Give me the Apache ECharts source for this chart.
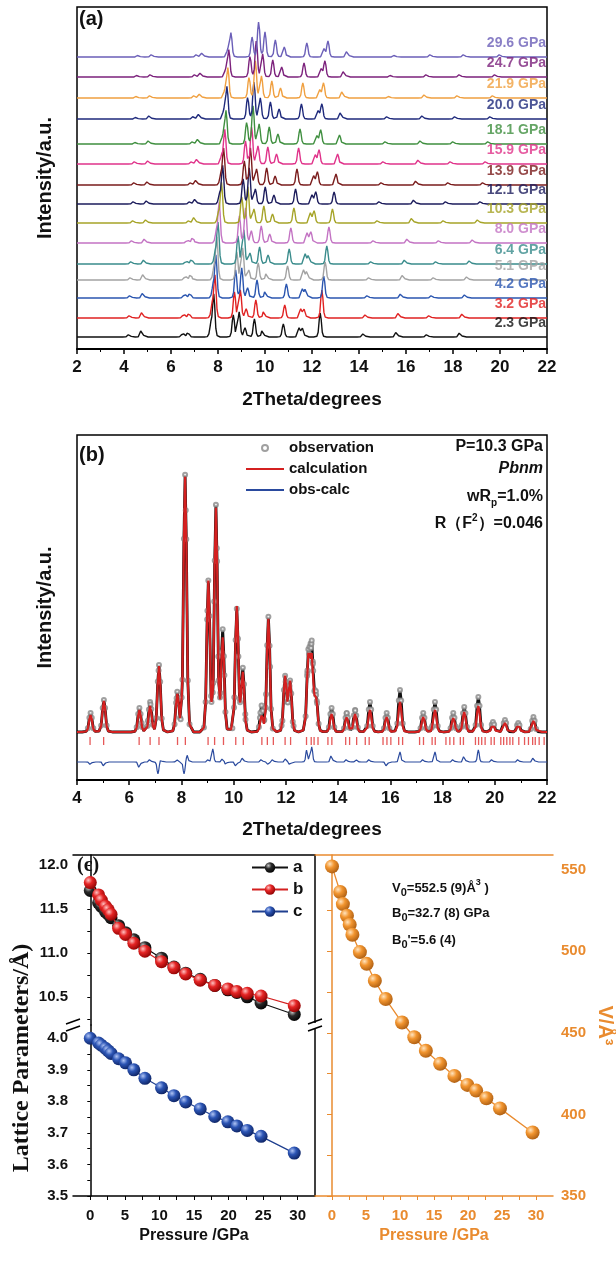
<!DOCTYPE html>
<html>
<head>
<meta charset="utf-8">
<script src="https://cdn.jsdelivr.net/npm/echarts@6.0.0/dist/echarts.min.js"></script>
<style>
html, body { margin: 0; padding: 0; background: #fff; }
#chart { width: 616px; height: 1265px; }
</style>
</head>
<body>
<div id="chart"></div>
<script>
// ---- (a) stacked patterns, bottom to top ----
const labelsA = ['2.3 GPa', '3.2 GPa', '4.2 GPa', '5.1 GPa', '6.4 GPa', '8.0 GPa', '10.3 GPa', '12.1 GPa',
    '13.9 GPa', '15.9 GPa', '18.1 GPa', '20.0 GPa', '21.9 GPa', '24.7 GPa', '29.6 GPa'];
const offsetsA = [12, 31, 51, 69, 85, 106, 126, 145, 164, 185, 205, 230, 251, 272, 292];
const peakPosA = [
    [4.22, 4.75, 6.50, 6.72, 7.70, 7.82, 8.65, 8.90, 9.15, 9.55, 9.90, 10.78, 11.45, 11.60, 12.35, 14.20, 15.60, 16.90, 18.30],
    [4.25, 4.78, 6.54, 6.76, 7.75, 7.87, 8.70, 8.95, 9.20, 9.61, 9.96, 10.84, 11.52, 11.67, 12.42, 14.29, 15.69, 17.00, 18.41],
    [4.27, 4.81, 6.58, 6.80, 7.79, 7.91, 8.75, 9.01, 9.26, 9.66, 10.02, 10.91, 11.59, 11.74, 12.50, 14.37, 15.79, 17.10, 18.52],
    [4.29, 4.83, 6.61, 6.83, 7.83, 7.95, 8.80, 9.05, 9.31, 9.71, 10.07, 10.96, 11.64, 11.80, 12.56, 14.44, 15.87, 17.19, 18.61],
    [4.32, 4.86, 6.65, 6.87, 7.88, 8.00, 8.85, 9.10, 9.36, 9.77, 10.13, 11.03, 11.71, 11.87, 12.63, 14.53, 15.96, 17.29, 18.72],
    [4.35, 4.89, 6.70, 6.92, 7.93, 8.05, 8.91, 9.17, 9.42, 9.84, 10.20, 11.10, 11.79, 11.95, 12.72, 14.63, 16.07, 17.41, 18.85],
    [4.40, 4.95, 6.77, 7.00, 8.02, 8.15, 9.01, 9.27, 9.53, 9.95, 10.32, 11.23, 11.93, 12.09, 12.87, 14.80, 16.26, 17.61, 19.07],
    [4.42, 4.98, 6.81, 7.04, 8.07, 8.20, 9.07, 9.33, 9.59, 10.01, 10.38, 11.30, 12.00, 12.16, 12.94, 14.88, 16.35, 17.71, 19.18],
    [4.45, 5.01, 6.85, 7.08, 8.12, 8.24, 9.12, 9.38, 9.64, 10.07, 10.43, 11.36, 12.07, 12.23, 13.02, 14.97, 16.44, 17.81, 19.29],
    [4.47, 5.04, 6.89, 7.12, 8.16, 8.29, 9.17, 9.43, 9.70, 10.12, 10.49, 11.43, 12.14, 12.30, 13.09, 15.05, 16.54, 17.91, 19.40],
    [4.50, 5.06, 6.93, 7.16, 8.21, 8.34, 9.22, 9.49, 9.75, 10.18, 10.55, 11.49, 12.21, 12.37, 13.17, 15.14, 16.63, 18.02, 19.51],
    [4.52, 5.09, 6.96, 7.20, 8.25, 8.38, 9.26, 9.53, 9.80, 10.23, 10.60, 11.55, 12.26, 12.42, 13.23, 15.21, 16.71, 18.10, 19.60],
    [4.54, 5.12, 7.00, 7.24, 8.29, 8.42, 9.32, 9.59, 9.85, 10.29, 10.66, 11.61, 12.33, 12.49, 13.30, 15.29, 16.80, 18.20, 19.71],
    [4.57, 5.14, 7.03, 7.27, 8.33, 8.46, 9.36, 9.63, 9.90, 10.33, 10.71, 11.66, 12.39, 12.55, 13.36, 15.36, 16.88, 18.29, 19.80],
    [4.61, 5.19, 7.10, 7.34, 8.42, 8.55, 9.45, 9.73, 10.00, 10.44, 10.82, 11.78, 12.51, 12.68, 13.50, 15.52, 17.05, 18.47, 20.00]
];
const peakHgtA = [
    [3, 8, 4, 5, 12, 42, 22, 25, 9, 18, 8, 13, 9, 9, 24, 4, 6, 3, 5],
    [3, 7, 4, 5, 12, 42, 26, 28, 9, 18, 8, 13, 9, 9, 28, 4, 6, 3, 5],
    [3, 6, 4, 5, 11, 42, 28, 30, 10, 18, 8, 14, 9, 10, 22, 3, 5, 3, 4],
    [3, 7, 4, 6, 11, 42, 28, 32, 10, 17, 8, 14, 10, 10, 18, 3, 6, 3, 4],
    [3, 5, 3, 5, 10, 41, 28, 34, 11, 17, 9, 15, 10, 10, 18, 3, 5, 3, 4],
    [3, 5, 3, 6, 10, 40, 27, 35, 12, 17, 9, 15, 10, 11, 16, 3, 5, 3, 4],
    [3, 4, 3, 7, 9, 40, 26, 36, 14, 17, 9, 15, 10, 12, 14, 3, 6, 3, 4],
    [3, 4, 3, 6, 9, 38, 25, 36, 15, 17, 9, 15, 9, 12, 12, 3, 5, 3, 3],
    [3, 4, 3, 6, 9, 36, 24, 37, 16, 17, 9, 16, 9, 13, 11, 3, 5, 3, 3],
    [3, 4, 3, 6, 8, 34, 23, 38, 18, 17, 10, 16, 9, 14, 10, 3, 5, 3, 3],
    [2, 4, 3, 6, 8, 33, 22, 38, 20, 17, 10, 15, 8, 14, 9, 3, 4, 3, 3],
    [2, 4, 3, 6, 8, 32, 22, 38, 21, 17, 10, 15, 8, 15, 8, 3, 4, 3, 3],
    [2, 3, 3, 5, 7, 30, 21, 37, 22, 17, 10, 15, 8, 15, 8, 2, 4, 3, 3],
    [2, 3, 3, 5, 7, 27, 21, 37, 23, 17, 10, 14, 8, 16, 7, 2, 3, 3, 3],
    [2, 3, 3, 5, 7, 24, 20, 36, 25, 17, 10, 14, 8, 16, 7, 2, 3, 3, 3]
];
const colorsA = ['#111111', '#e02222', '#2b56b0', '#a3a3a3', '#3a8c8c', '#c373c3', '#a6a428', '#1c1c5c',
    '#7a1c1c', '#e0338a', '#3f8f3f', '#1f2a7c', '#f0a040', '#7c227c', '#6b5fb8'];

// ---- (b) refinement at 10.3 GPa ----
const obsPos = [4.52, 5.03, 6.39, 6.80, 7.14, 7.84, 8.14, 9.03, 9.32, 9.58, 10.12, 10.35, 11.07, 11.33, 11.97, 12.16,
    12.86, 12.99, 13.15, 13.75, 14.33, 14.65, 15.22, 15.86, 16.37, 17.26, 17.71, 18.41, 18.83, 19.37, 19.93, 20.39, 20.90, 21.48];
const obsHgt = [19, 32, 24, 30, 67, 39, 257, 150, 225, 100, 122, 62, 25, 115, 55, 50,
    72, 80, 36, 24, 19, 22, 30, 19, 42, 19, 30, 19, 25, 35, 10, 12, 9, 15];
const calcHgt = [17, 31, 22, 26, 66, 37, 255, 150, 222, 92, 125, 58, 15, 113, 55, 50,
    70, 68, 34, 18, 15, 18, 22, 15, 30, 15, 22, 14, 20, 26, 7, 9, 7, 11];
const diffPos = [4.52, 5.03, 6.39, 6.80, 7.10, 7.22, 7.84, 8.10, 8.22, 9.03, 9.20, 9.58, 9.70, 10.09, 10.35, 11.07, 11.33, 11.50,
    12.00, 12.15, 12.80, 12.99, 13.75, 14.33, 14.70, 15.20, 15.86, 16.37, 17.26, 17.71, 18.41, 18.83, 19.37, 19.90, 20.90, 21.48];
const diffHgt = [-3, -5, -7, 3, -12, 3, 2, -12, 7, 3, 13, 4, -3, -5, 5, 3, -3, 3,
    4, -3, 13, 15, 8, 3, 2, 3, -5, 10, 3, 10, 3, 7, 12, 3, 3, 5];
const reflPos = [4.50, 5.02, 6.38, 6.80, 7.14, 7.85, 8.15, 9.02, 9.27, 9.61, 10.08, 10.37, 11.08, 11.29, 11.52, 11.97, 12.18,
    12.79, 12.97, 13.08, 13.23, 13.61, 13.76, 14.29, 14.44, 14.71, 15.04, 15.19, 15.72, 15.87, 16.02, 16.32, 16.47, 17.12,
    17.27, 17.60, 17.72, 18.13, 18.28, 18.43, 18.68, 18.80, 19.26, 19.38, 19.50, 19.63, 19.86, 19.98, 20.23, 20.34, 20.46,
    20.58, 20.69, 20.92, 21.14, 21.29, 21.45, 21.55, 21.70, 21.89];
const obsBase = 48, diffBase = 18, reflLevel = 39;

// ---- (c) lattice parameters and volume ----
const pressC = [0, 1.2, 1.6, 2.2, 2.6, 3.0, 4.1, 5.1, 6.3, 7.9, 10.3, 12.1, 13.8, 15.9, 18.0, 19.9, 21.2, 22.7, 24.7, 29.5];
const latA = [11.71, 11.57, 11.53, 11.47, 11.44, 11.40, 11.31, 11.23, 11.15, 11.06, 10.94, 10.84, 10.77, 10.70, 10.63, 10.58, 10.55, 10.50, 10.43, 10.30];
const latB = [11.80, 11.66, 11.60, 11.53, 11.49, 11.44, 11.28, 11.21, 11.11, 11.02, 10.90, 10.83, 10.76, 10.69, 10.63, 10.59, 10.56, 10.54, 10.51, 10.40];
const latC = [4.000, 3.985, 3.978, 3.968, 3.960, 3.952, 3.935, 3.922, 3.900, 3.873, 3.843, 3.818, 3.798, 3.776, 3.752, 3.735, 3.722, 3.708, 3.689, 3.636];
const volV = [552.0, 536.3, 528.9, 521.8, 516.3, 510.1, 499.5, 492.3, 481.9, 470.7, 456.3, 447.3, 439.0, 431.0, 423.6, 418.1, 414.6, 409.9, 403.7, 388.9];

const FF = '"Liberation Sans", Arial, sans-serif';
const SERIF = '"Liberation Serif", "Times New Roman", serif';
const ORANGE = '#e98b2f';
const RED = '#d42020', BLUE = '#2a4a9e';

// peak glyph (shape of one reflection, in units of its width)
const glyphDx = [-2.5, -1.3, -0.8, -0.35, 0, 0.35, 0.8, 1.3, 2.5];
const glyphDy = [0, 0.03, 0.2, 0.75, 1, 0.75, 0.2, 0.03, 0];
function glyph(t) {
    if (t <= glyphDx[0] || t >= glyphDx[glyphDx.length - 1]) return 0;
    for (let i = 0; i < glyphDx.length - 1; i++) {
        if (t <= glyphDx[i + 1]) {
            let f = (t - glyphDx[i]) / (glyphDx[i + 1] - glyphDx[i]);
            return glyphDy[i] + f * (glyphDy[i + 1] - glyphDy[i]);
        }
    }
    return 0;
}
// trace = baseline + peaks, vertices at glyph corners only
function trace(pos, hgt, w, base, x0, x1) {
    let xs = [x0, x1];
    pos.forEach(p => glyphDx.forEach(d => {
        let x = p + d * w;
        if (x > x0 && x < x1) xs.push(x);
    }));
    xs.sort((a, b) => a - b);
    return xs.map(x => {
        let y = base;
        pos.forEach((p, k) => { y += hgt[k] * glyph((x - p) / w); });
        return [x, y];
    });
}
function ball(c0, c1, c2) {
    return {
        type: 'radial', x: 0.35, y: 0.32, r: 0.75,
        colorStops: [{offset: 0, color: c0}, {offset: 0.4, color: c1}, {offset: 1, color: c2}]
    };
}
function steps(a, b, s) {
    let out = [];
    for (let v = a; v <= b + 1e-9; v += s) out.push(Math.round(v * 1000) / 1000);
    return out;
}

let series = [];

// (a)
labelsA.forEach((name, i) => {
    series.push({
        type: 'line', xAxisIndex: 0, yAxisIndex: 0, silent: true, showSymbol: false,
        data: trace(peakPosA[i], peakHgtA[i], 0.11, offsetsA[i], 2, 22),
        lineStyle: {color: colorsA[i], width: 1.4}, z: 2
    });
});
series.push({
    type: 'scatter', xAxisIndex: 0, yAxisIndex: 0, silent: true, symbolSize: 0,
    data: labelsA.map((t, i) => ({value: [22, offsetsA[i] + 14], name: t, label: {color: colorsA[i]}})),
    label: {show: true, position: 'left', distance: 1, formatter: '{b}', fontFamily: FF, fontWeight: 'bold', fontSize: 14},
    z: 5
});

// (b)
const obsTrace = trace(obsPos, obsHgt, 0.13, obsBase, 4, 22);
series.push({
    type: 'line', xAxisIndex: 1, yAxisIndex: 1, silent: true, showSymbol: false,
    data: obsTrace, lineStyle: {color: '#111', width: 2.8}, z: 2
});
series.push({
    name: 'observation', type: 'scatter', xAxisIndex: 1, yAxisIndex: 1, silent: true,
    symbol: 'emptyCircle', symbolSize: 4,
    data: obsTrace.filter(p => p[1] > obsBase + 3),
    itemStyle: {color: '#888', borderColor: '#888', borderWidth: 1}, z: 3
});
series.push({
    name: 'calculation', type: 'line', xAxisIndex: 1, yAxisIndex: 1, silent: true, symbol: 'none',
    data: trace(obsPos, calcHgt, 0.13, obsBase, 4, 22), lineStyle: {color: RED, width: 2.2},
    itemStyle: {color: RED}, z: 4
});
series.push({
    name: 'obs-calc', type: 'line', xAxisIndex: 1, yAxisIndex: 1, silent: true, symbol: 'none',
    data: trace(diffPos, diffHgt, 0.08, diffBase, 4, 22), lineStyle: {color: BLUE, width: 1.2},
    itemStyle: {color: BLUE}, z: 3
});
series.push({
    type: 'scatter', xAxisIndex: 1, yAxisIndex: 1, silent: true, symbol: 'rect', symbolSize: [1.3, 8],
    data: reflPos.map(p => [p, reflLevel]), itemStyle: {color: '#e03030'}, z: 3
});

// (c)
series.push({
    name: 'a', type: 'line', xAxisIndex: 2, yAxisIndex: 2, symbol: 'circle', symbolSize: 13,
    data: pressC.map((p, i) => [p, latA[i]]), lineStyle: {color: '#111', width: 1.2},
    itemStyle: {color: ball('#c8c8c8', '#2a2a2a', '#000')}, z: 3
});
series.push({
    name: 'b', type: 'line', xAxisIndex: 2, yAxisIndex: 2, symbol: 'circle', symbolSize: 13,
    data: pressC.map((p, i) => [p, latB[i]]), lineStyle: {color: RED, width: 1.2},
    itemStyle: {color: ball('#ffc0c0', '#e52525', '#8a0000')}, z: 4
});
series.push({
    name: 'c', type: 'line', xAxisIndex: 3, yAxisIndex: 4, symbol: 'circle', symbolSize: 13,
    data: pressC.map((p, i) => [p, latC[i]]), lineStyle: {color: '#1f3f8f', width: 1.2},
    itemStyle: {color: ball('#b0c4f4', '#2c55b5', '#0b1f5c')}, z: 3
});
series.push({
    type: 'line', xAxisIndex: 4, yAxisIndex: 6, symbol: 'circle', symbolSize: 14,
    data: pressC.map((p, i) => [p, volV[i]]), lineStyle: {color: ORANGE, width: 1.3},
    itemStyle: {color: ball('#ffe4bf', '#f2952f', '#a85a10')}, z: 3
});

const boldLab = (size, color) => ({fontFamily: FF, fontWeight: 'bold', fontSize: size, color: color || '#111'});
const noAxisBits = {axisTick: {show: false}, axisLabel: {show: false}, splitLine: {show: false}};

const xAxes = [
    {gridIndex: 0, type: 'value', min: 2, max: 22, interval: 2,
        axisLine: {lineStyle: {color: '#000', width: 2}},
        axisTick: {length: 5, lineStyle: {width: 1.5}}, minorTick: {show: true, splitNumber: 2, length: 3},
        axisLabel: Object.assign({margin: 10}, boldLab(17)), splitLine: {show: false},
        name: '2Theta/degrees', nameLocation: 'middle', nameGap: 41, nameTextStyle: boldLab(19)},
    {gridIndex: 1, type: 'value', min: 4, max: 22, interval: 2,
        axisLine: {lineStyle: {color: '#000', width: 2}},
        axisTick: {length: 5, lineStyle: {width: 1.5}}, minorTick: {show: true, splitNumber: 2, length: 3},
        axisLabel: Object.assign({margin: 10}, boldLab(17)), splitLine: {show: false},
        name: '2Theta/degrees', nameLocation: 'middle', nameGap: 40, nameTextStyle: boldLab(19)},
    Object.assign({gridIndex: 2, type: 'value', position: 'top', min: -2.5, max: 32.5,
        axisLine: {lineStyle: {color: '#000', width: 1.5}}}, noAxisBits),
    {gridIndex: 3, type: 'value', position: 'bottom', min: -2.5, max: 32.5,
        axisLine: {lineStyle: {color: '#000', width: 1.5}},
        axisTick: {length: 4, customValues: steps(0, 30, 2.5), lineStyle: {color: '#000'}},
        axisLabel: Object.assign({margin: 12, customValues: steps(0, 30, 5)}, boldLab(15)),
        splitLine: {show: false},
        name: 'Pressure /GPa', nameLocation: 'middle', nameGap: 32, nameTextStyle: boldLab(16)},
    {gridIndex: 4, type: 'value', position: 'bottom', min: -2.5, max: 32.5,
        axisLine: {lineStyle: {color: ORANGE, width: 1.5}},
        axisTick: {length: 4, customValues: steps(0, 30, 2.5), lineStyle: {color: ORANGE}},
        axisLabel: Object.assign({margin: 12, customValues: steps(0, 30, 5)}, boldLab(15, ORANGE)),
        splitLine: {show: false},
        name: 'Pressure /GPa', nameLocation: 'middle', nameGap: 32, nameTextStyle: boldLab(16, ORANGE)},
    Object.assign({gridIndex: 4, type: 'value', position: 'top', min: -2.5, max: 32.5,
        axisLine: {lineStyle: {color: ORANGE, width: 1.5}}}, noAxisBits)
];

const yAxes = [
    Object.assign({gridIndex: 0, type: 'value', min: 0, max: 342, axisLine: {show: false},
        name: 'Intensity/a.u.', nameLocation: 'middle', nameGap: 22, nameTextStyle: boldLab(20)}, noAxisBits),
    Object.assign({gridIndex: 1, type: 'value', min: 0, max: 345, axisLine: {show: false},
        name: 'Intensity/a.u.', nameLocation: 'middle', nameGap: 22, nameTextStyle: boldLab(20)}, noAxisBits),
    {gridIndex: 2, type: 'value', position: 'left', min: 10.18, max: 12.114,
        axisLine: {show: true, lineStyle: {color: '#000', width: 1.5}},
        axisTick: {show: true, length: 3, customValues: steps(10.25, 12, 0.25), lineStyle: {color: '#000'}},
        axisLabel: Object.assign({margin: 5, customValues: [10.5, 11, 11.5, 12], formatter: v => v.toFixed(1)}, boldLab(15)),
        splitLine: {show: false}},
    Object.assign({gridIndex: 2, type: 'value', position: 'right', min: 10.18, max: 12.114,
        axisLine: {show: true, lineStyle: {color: '#000', width: 1.5}}}, noAxisBits),
    {gridIndex: 3, type: 'value', position: 'left', min: 3.5, max: 4.042,
        axisLine: {show: true, lineStyle: {color: '#000', width: 1.5}},
        axisTick: {show: true, length: 3, customValues: steps(3.5, 4.0, 0.05), lineStyle: {color: '#000'}},
        axisLabel: Object.assign({margin: 5, customValues: steps(3.5, 4.0, 0.1), formatter: v => v.toFixed(1)}, boldLab(15)),
        splitLine: {show: false}},
    Object.assign({gridIndex: 3, type: 'value', position: 'right', min: 3.5, max: 4.042,
        axisLine: {show: true, lineStyle: {color: '#000', width: 1.5}}}, noAxisBits),
    {gridIndex: 4, type: 'value', position: 'right', min: 350, max: 559,
        axisLine: {show: true, lineStyle: {color: ORANGE, width: 1.5}},
        axisTick: {show: true, inside: true, length: 5, customValues: steps(350, 550, 25), lineStyle: {color: ORANGE}},
        axisLabel: Object.assign({margin: 8, customValues: steps(350, 550, 50)}, boldLab(15, ORANGE)),
        splitLine: {show: false},
        name: 'V/Å³', nameLocation: 'middle', nameRotate: -90, nameGap: 42, nameTextStyle: boldLab(20, ORANGE)}
];

// break marks on the split lattice axis
function breakMark(x, y) {
    return [
        {type: 'rect', shape: {x: x - 3, y: y - 2, width: 6, height: 5}, style: {fill: '#fff'}, zlevel: 1, z: 100},
        {type: 'line', shape: {x1: x - 7, y1: y - 1, x2: x + 7, y2: y - 6}, style: {stroke: '#000', lineWidth: 1.6}, zlevel: 1, z: 101},
        {type: 'line', shape: {x1: x - 7, y1: y + 6, x2: x + 7, y2: y + 1}, style: {stroke: '#000', lineWidth: 1.6}, zlevel: 1, z: 101}
    ];
}
const txt = (x, y, text, font, align, fill, extra) => Object.assign({
    type: 'text', x: x, y: y, zlevel: 1, z: 100,
    style: {text: text, font: font, fill: fill || '#111', align: align || 'left', verticalAlign: 'middle'}
}, extra || {});
const rtxt = (x, y, text, rich, align) => ({
    type: 'text', x: x, y: y, zlevel: 1, z: 100,
    style: {text: text, rich: rich, align: align || 'left', verticalAlign: 'middle'}
});

const bf = size => 'bold ' + size + 'px ' + FF;
const richB = {
    t: {font: bf(16), fill: '#111', lineHeight: 22},
    s: {font: bf(10), fill: '#111', verticalAlign: 'bottom', lineHeight: 22},
    u: {font: bf(10), fill: '#111', verticalAlign: 'top', lineHeight: 22}
};
const richC = {
    t: {font: bf(13), fill: '#111', lineHeight: 20},
    s: {font: bf(11), fill: '#111', verticalAlign: 'bottom', lineHeight: 20},
    u: {font: bf(9), fill: '#111', verticalAlign: 'top', lineHeight: 20}
};
const lineIcon = 'path://M0,0L38,0L38,2L0,2Z';

const graphics = [
    txt(79, 19, '(a)', bf(20)),
    txt(79, 455, '(b)', bf(20)),
    txt(77, 866, '(c)', 'bold 20px ' + SERIF),
    txt(543, 447, 'P=10.3 GPa', bf(16), 'right'),
    txt(543, 469, 'Pbnm', 'italic bold 16px ' + FF, 'right'),
    rtxt(543, 497, '{t|wR}{s|p}{t|=1.0%}', richB, 'right'),
    rtxt(543, 524, '{t|R（F}{u|2}{t|）=0.046}', richB, 'right'),
    rtxt(392, 888, '{t|V}{s|0}{t|=552.5 (9)Å}{u|3}{t| )}', richC),
    rtxt(392, 913, '{t|B}{s|0}{t|=32.7 (8) GPa}', richC),
    rtxt(392, 940, "{t|B}{s|0}{t|'=5.6 (4)}", richC),
    txt(22, 1058, 'Lattice Parameters/Å)', 'bold 24px ' + SERIF, 'center', '#111', {rotation: Math.PI / 2})
].concat(breakMark(73, 1025), breakMark(315, 1025));

const option = {
    animation: false,
    backgroundColor: '#fff',
    textStyle: {fontFamily: FF},
    grid: [
        {left: 77, top: 7, width: 470, height: 342, show: true, borderColor: '#000', borderWidth: 1.5},
        {left: 77, top: 435, width: 470, height: 345, show: true, borderColor: '#000', borderWidth: 1.5},
        {left: 73, top: 855, width: 242, height: 170},
        {left: 73, top: 1025, width: 242, height: 171},
        {left: 315, top: 855, width: 242, height: 341}
    ],
    xAxis: xAxes,
    yAxis: yAxes,
    legend: [
        {data: [{name: 'observation', icon: 'emptyCircle'}, {name: 'calculation', icon: lineIcon}, {name: 'obs-calc', icon: lineIcon}],
            orient: 'vertical', left: 241, top: 434, itemWidth: 38, itemHeight: 6, itemGap: 3, selectedMode: false,
            textStyle: {fontFamily: FF, fontWeight: 'bold', fontSize: 15, color: '#111', lineHeight: 18}},
        {data: ['a', 'b', 'c'], orient: 'vertical', left: 246, top: 854, itemWidth: 36, itemHeight: 13,
            itemGap: 5, selectedMode: false,
            textStyle: {fontFamily: FF, fontWeight: 'bold', fontSize: 17, color: '#111', lineHeight: 17}}
    ],
    series: series,
    graphic: {elements: graphics}
};

const chart = echarts.init(document.getElementById('chart'));
chart.setOption(option);
</script>
</body>
</html>
